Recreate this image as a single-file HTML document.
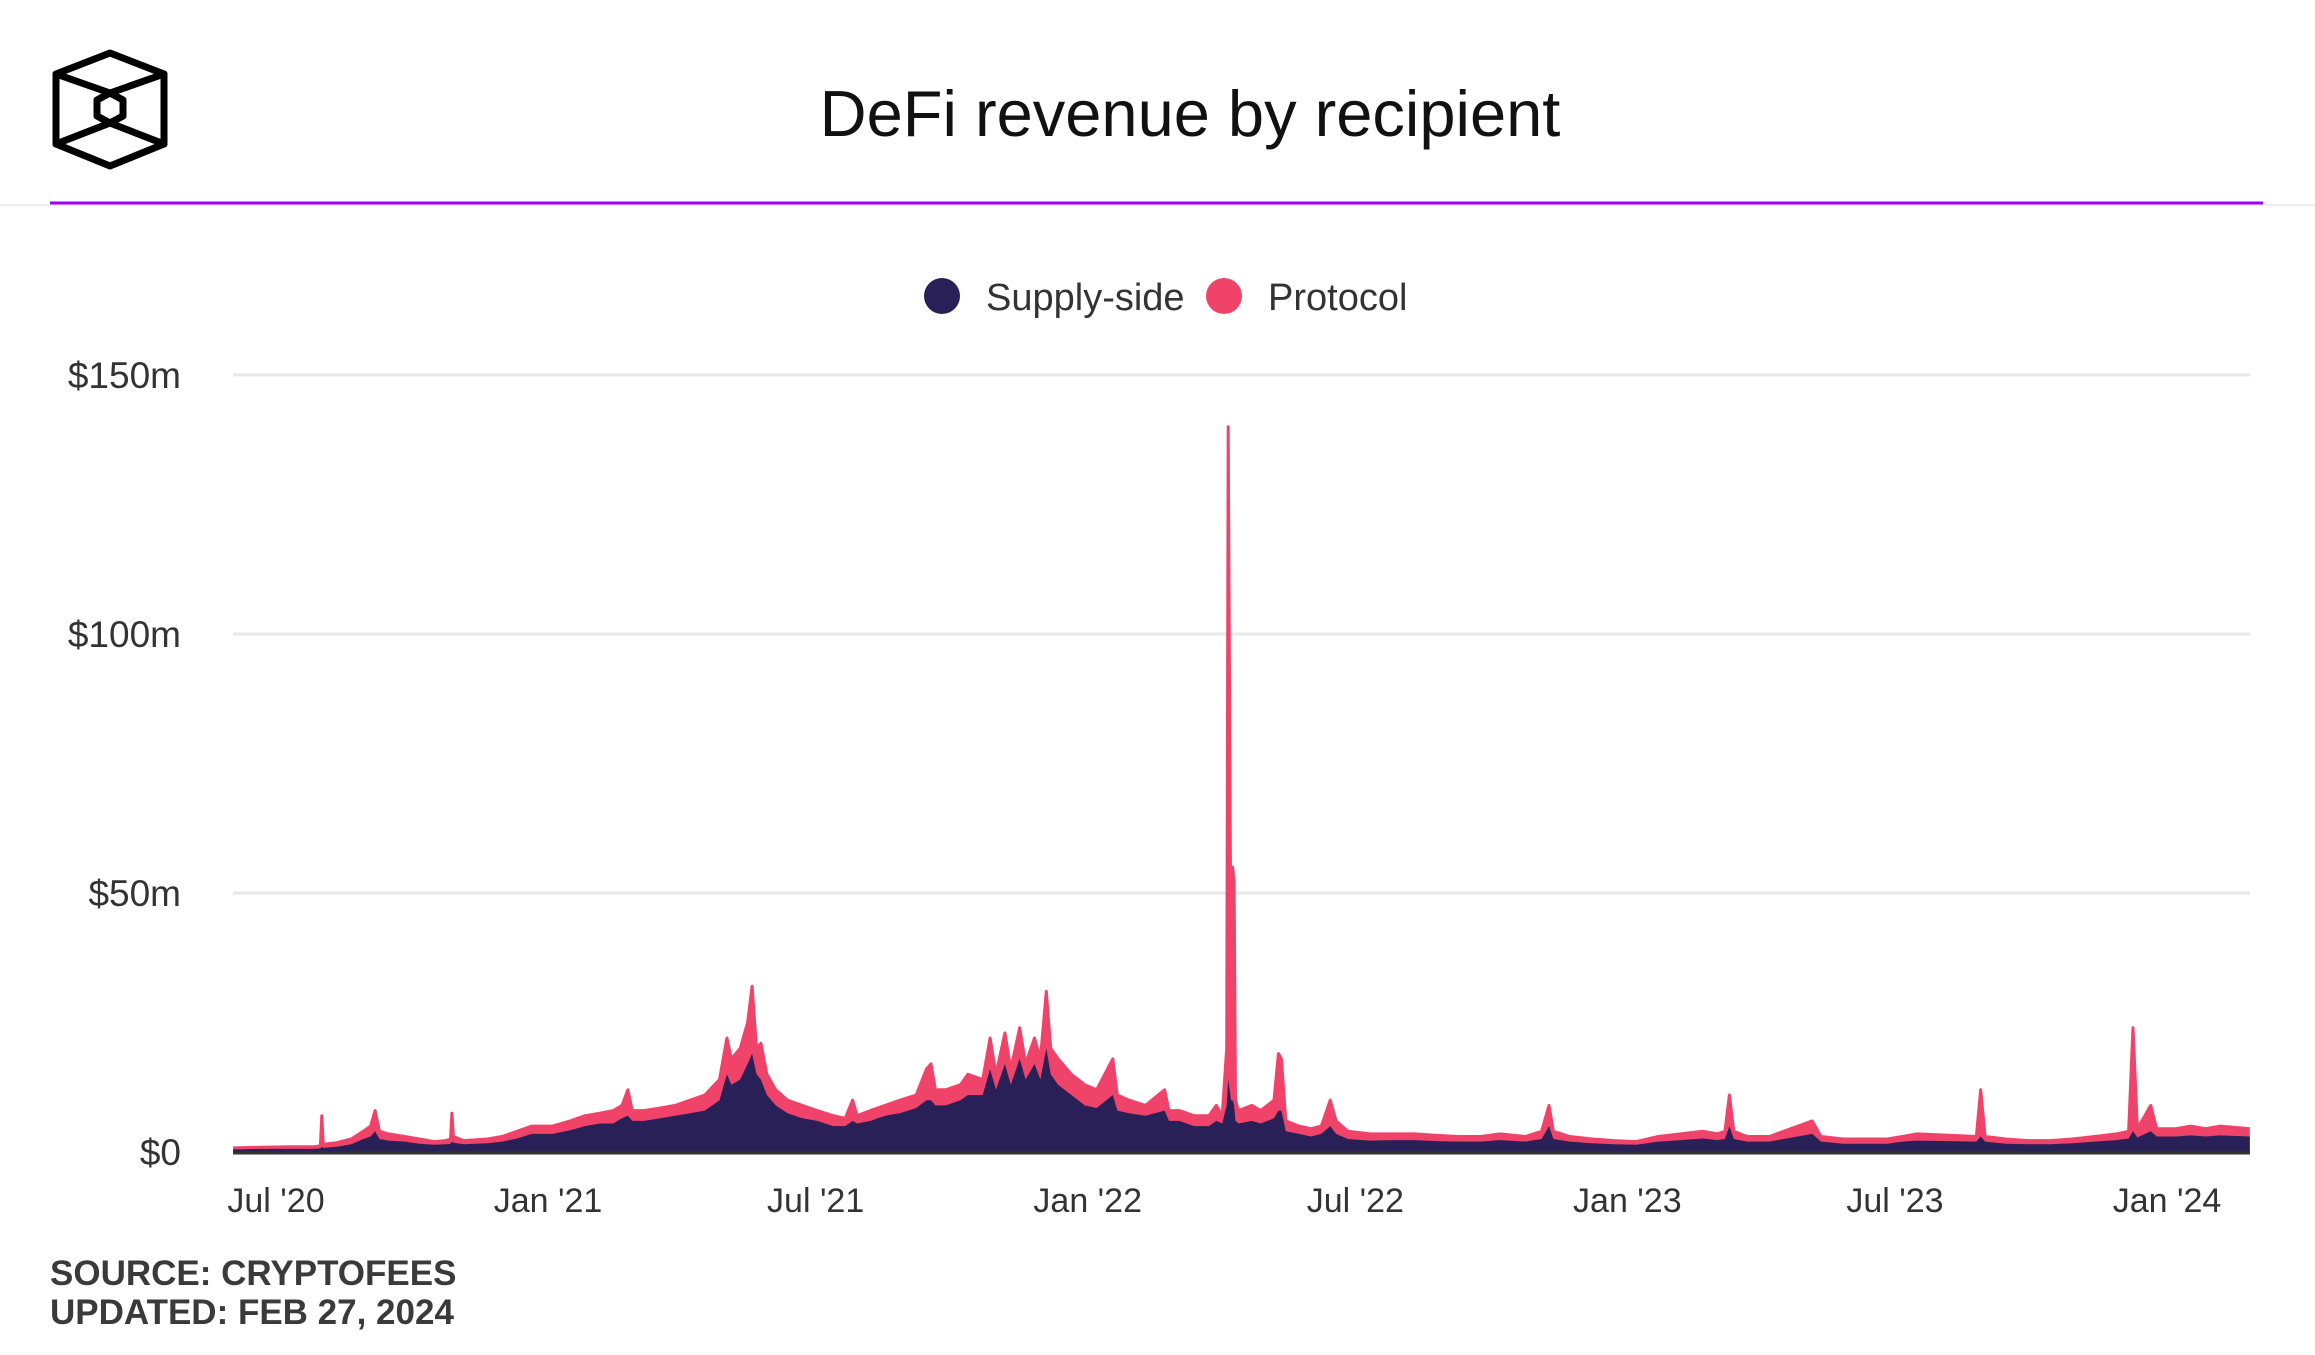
<!DOCTYPE html>
<html><head><meta charset="utf-8">
<style>
html,body{margin:0;padding:0;background:#fff;}
body{width:2315px;height:1350px;overflow:hidden;position:relative;font-family:"Liberation Sans",sans-serif;}
</style></head>
<body>
<svg id="chart" width="2315" height="1350" xmlns="http://www.w3.org/2000/svg">
  <g fill="none" stroke="#000" stroke-width="7" stroke-linejoin="round" stroke-linecap="round">
    <polygon points="110,53 164,74 164,144 110,166 56,144 56,74"/>
    <polygon points="110,93 123,100 123,116 110,123 97,116 97,100"/>
    <line x1="56" y1="74" x2="110" y2="93"/><line x1="164" y1="74" x2="110" y2="93"/>
    <line x1="56" y1="144" x2="110" y2="123"/><line x1="164" y1="144" x2="110" y2="123"/>
  </g>
  <text x="1190" y="136" text-anchor="middle" font-size="65" fill="#111">DeFi revenue by recipient</text>
  <line x1="0" y1="205" x2="2315" y2="205" stroke="#eee" stroke-width="2"/>
  <line x1="50" y1="203" x2="2263" y2="203" stroke="#9b00f0" stroke-width="3"/>
  <g font-size="38" fill="#333">
    <circle cx="942" cy="296" r="18" fill="#2a2058"/>
    <text x="986" y="310">Supply-side</text>
    <circle cx="1224" cy="296" r="18" fill="#f0436a"/>
    <text x="1268" y="310">Protocol</text>
  </g>
  <g id="grid"></g>
  <g id="areas"></g>
  <g id="axes"></g>
  <text x="50" y="1285" font-size="35" font-weight="bold" fill="#3a3a3a">SOURCE: CRYPTOFEES</text>
  <text x="50" y="1324" font-size="35" font-weight="bold" fill="#3a3a3a">UPDATED: FEB 27, 2024</text>
</svg>
<script>
// days since 2020-07-01
const days = [-29,-10,10,25,30,31,32,41,51,59,64,67,70,76,87,97,107,115,118,119,120,127,143,153,163,173,187,199,209,219,228,234,238,241,249,260,270,280,290,300,305,308,314,319,322,325,328,332,338,346,356,366,377,385,390,393,402,412,422,433,440,443,446,453,463,468,478,483,487,493,497,503,507,513,517,521,524,529,538,547,555,566,569,577,588,601,604,611,621,631,636,640,643,644,646,647,648,649,651,660,666,675,678,680,683,692,700,707,713,717,725,740,755,770,785,800,815,828,845,856,861,864,875,890,905,920,935,950,965,975,980,983,986,995,1010,1039,1045,1060,1075,1090,1100,1110,1150,1153,1156,1170,1185,1200,1215,1230,1245,1253,1256,1259,1268,1272,1285,1295,1305,1315,1335];
// $ millions
const supply = [.5,.6,.6,.6,.7,1,.8,1,1.5,2.5,3,4,2.5,2.2,2,1.6,1.4,1.5,1.6,2,1.8,1.5,1.7,2,2.6,3.5,3.5,4.2,5,5.5,5.5,6.5,7,6,6,6.5,7,7.5,8,10,15,13,14,17,19,15,14,11,9,7.5,6.5,6,5,5,6,5.5,6,7,7.5,8.5,10,10,9,9,10,11,11,16,12,17,13,18,14,17,14,20,15,13,11,9,8.5,11,8,7.5,7,8,6,6,5,5,6,5.5,9,14,10,10,9,6,5.5,6,5.5,6.5,8,8,4,3.5,3,3.5,5,3.5,2.5,2.2,2.3,2.3,2.1,2,2,2.3,2,2.5,5,2.5,2,1.7,1.5,1.4,2,2.3,2.6,2.3,2.5,5,2.5,2,2,3.5,2,1.6,1.6,1.6,2,2.2,2,3,2,1.6,1.5,1.5,1.7,2,2.3,2.6,4,2.8,4,3,3,3.2,3,3.2,3];
const protocol = [.3,.3,.4,.4,.5,6,.7,.8,1,1.5,2,4,1.5,1.3,1,.9,.6,.7,.9,5.5,1.2,.7,.8,1,1.4,1.5,1.5,1.8,2,2,2.5,2.5,5,2,2,2,2,2.5,3,4,7,5,6,8,13,5,7,4,3,2.5,2.5,2,2,1.5,4,1.5,2,2,2.5,2.5,6,7,3,3,3,4,3,6,3,6,3,6,3,5,4,11,5,5,4,4,3.5,7,3,2.5,2,4,2,2,2,2,3,1.5,11,126,20,45,43,4,2.5,3,2.5,3.5,11,10,2,1.5,1.5,1.5,5,2.5,1.5,1.3,1.2,1.2,1.1,1,1,1.2,1,1.5,4,1.5,1,.8,.7,.6,1,1.2,1.4,1.2,1.5,6,1.5,1,1,2.5,1,.9,.9,.9,1,1.3,1,9,1,.9,.7,.7,.8,1,1.2,1.4,20,1.7,5,1.5,1.5,1.8,1.5,1.8,1.5];
const yTicks = [0,50,100,150];
const yTickLabels = ['$0','$50m','$100m','$150m'];
const xTickDays = [0,184,365,549,730,914,1095,1279];
const xTickLabels = ["Jul '20","Jan '21","Jul '21","Jan '22","Jul '22","Jan '23","Jul '23","Jan '24"];

const NS='http://www.w3.org/2000/svg';
const X0=233, X1=2250, Y0=1152;
const xs = d => 276 + d*1.4785;
const ys = v => Y0 - v*(777/150);
function mk(tag, attrs, parent){const e=document.createElementNS(NS,tag);for(const k in attrs)e.setAttribute(k,attrs[k]);parent.appendChild(e);return e;}
const grid=document.getElementById('grid'), areas=document.getElementById('areas'), axes=document.getElementById('axes');

yTicks.forEach((t,i)=>{
  if(t>0){const l=mk('line',{x1:X0,x2:X1,y1:ys(t),y2:ys(t),stroke:'#e8e8e8','stroke-width':3},grid);
  
  }
  const tx=mk('text',{x:181,y:ys(t)+13,'text-anchor':'end','font-size':37,fill:'#333'},axes);
  tx.textContent=yTickLabels[i];
  
  
});
xTickDays.forEach((d,i)=>{
  const tx=mk('text',{x:xs(d),y:1212,'text-anchor':'middle','font-size':34,fill:'#333'},axes);
  tx.textContent=xTickLabels[i];
  
  
});

const totals = supply.map((s,i)=>s+protocol[i]);
function pts(arr){return days.map((d,i)=>xs(d).toFixed(1)+','+ys(arr[i]).toFixed(1));}
const base = xs(days[days.length-1]).toFixed(1)+','+Y0+' '+xs(days[0]).toFixed(1)+','+Y0;
const pArea=mk('polygon',{points:pts(totals).join(' ')+' '+base,fill:'#f0436a'},areas);


const sArea=mk('polygon',{points:pts(supply).join(' ')+' '+base,fill:'#2a2058'},areas);


const pLine=mk('polyline',{points:pts(totals).join(' '),fill:'none',stroke:'#f0436a','stroke-width':3,'stroke-linejoin':'round'},areas);


const ax=mk('line',{x1:X0,x2:X1,y1:Y0+1,y2:Y0+1,stroke:'#333','stroke-width':3},axes);


</script>
</body></html>
